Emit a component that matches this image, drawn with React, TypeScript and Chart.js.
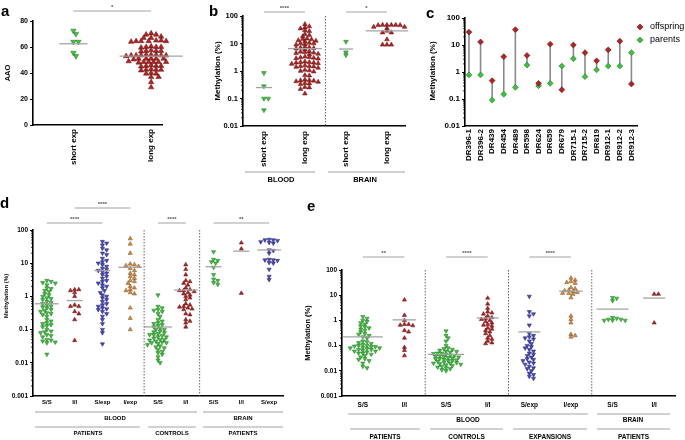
import React, { useEffect, useRef } from "react";
import { Chart, registerables } from "chart.js";
Chart.register(...registerables);

const FONT = '"Liberation Sans", Arial, Helvetica, sans-serif';
const W = 685;
const H = 440;

// ---------------- DATA ----------------
// panel a
const aCategories = ["short exp", "long exp"];
const aShortExp = [72.5, 70, 64, 64, 55.5, 53];
const aLongExp = [70.5, 69.5, 69.5, 68, 67, 67, 65, 64.5, 64.5, 64, 64.5, 65, 64, 64.5, 60, 60.5, 60, 59.5, 60, 57, 57.5, 57, 56.5, 57, 53.5, 54, 53.5, 53, 53.5, 54, 53.5, 53, 53.5, 54, 53.5, 51, 51, 50.5, 51, 51, 50.5, 51, 51, 48.5, 48.5, 48, 48.5, 49, 48.5, 48.5, 48, 48.5, 45.5, 45, 45.5, 46, 45.5, 42.5, 42, 42.5, 43, 42.5, 39.5, 39.5, 40, 37, 37, 33, 29];
const aMeans = [62.5, 53];
const aTicks = [0, 20, 40, 60, 80];
const aSig = ["*"];

// panel b
const bCategories = ["short exp", "long exp", "short exp", "long exp"];
const bTissues = ["BLOOD", "BRAIN"];
const bBloodShort = [0.85, 0.28, 0.1, 0.1, 0.038];
const bBloodLong = [50, 42, 38, 35, 30, 28, 22, 20, 18, 15, 14, 13, 12.5, 14.5, 12, 10, 9.5, 10.5, 9, 10, 7, 6.5, 6.8, 7.2, 6, 7.5, 5, 4.5, 4.8, 4.2, 5.2, 4, 4.6, 3, 3.2, 2.9, 3.1, 2.8, 3.3, 2, 2.1, 1.9, 2.2, 1.8, 2, 2.1, 1.5, 1.4, 1.6, 1.5, 1.3, 1.45, 1, 1.05, 0.95, 1.1, 0.7, 0.68, 0.45, 0.42, 0.48, 0.44, 0.4, 0.46, 0.35, 0.33, 0.36, 0.25, 0.26, 0.22, 0.15];
const bBrainShort = [11.7, 4.8, 3.8];
const bBrainLong = [47, 47, 46, 47, 46, 47, 40, 40, 36, 25, 25, 29, 14, 9, 9, 9];
const bMeans = [0.25, 6.5, 6.3, 29];
const bTicks = [0.01, 0.1, 1, 10, 100];
const bSig = ["****", "*"];

// panel c
const cSamples = ["DR396-1", "DR396-2", "DR439", "DR454", "DR489", "DR598", "DR624", "DR659", "DR679", "DR715-1", "DR715-2", "DR819", "DR912-1", "DR912-2", "DR912-3"];
const cOffspring = [30, 13, 0.48, 3.7, 37, 4.1, 0.38, 10.7, 0.22, 10, 5.2, 2.6, 6.6, 13.9, 0.36];
const cParents = [0.78, 0.78, 0.091, 0.15, 0.27, 1.8, 0.31, 0.38, 1.66, 3.1, 0.67, 1.2, 1.66, 1.66, 5.2];
const cLegend = ["offspring", "parents"];
const cTicks = [0.01, 0.1, 1, 10, 100];

// panel d
const dCategories = ["S/S", "I/I", "S/exp", "I/exp", "S/S", "I/I", "S/S", "I/I", "S/exp"];
const dTissues = ["BLOOD", "BRAIN"];
const dCohorts = ["PATIENTS", "CONTROLS", "PATIENTS"];
const dPatSS = [3, 2.8, 2.6, 2.5, 2.2, 1.8, 1.7, 1.5, 1.4, 1.2, 1.1, 1.0, 0.9, 0.85, 0.8, 0.7, 0.65, 0.6, 0.55, 0.5, 0.48, 0.45, 0.4, 0.38, 0.35, 0.32, 0.3, 0.28, 0.25, 0.2, 0.18, 0.16, 0.15, 0.14, 0.13, 0.12, 0.1, 0.09, 0.085, 0.08, 0.07, 0.065, 0.06, 0.05, 0.048, 0.045, 0.042, 0.04, 0.018];
const dPatII = [1.6, 1.5, 1.6, 1.3, 1.0, 0.55, 0.5, 0.5, 0.35, 0.3, 0.2, 0.047];
const dPatSexp = [45, 40, 35, 28, 25, 20, 18, 14, 12, 11, 10, 9, 8, 7, 6.5, 6, 5.5, 5, 4.5, 4, 3.5, 3, 2.8, 2.5, 2.2, 2, 1.8, 1.5, 1.3, 1.1, 1, 0.9, 0.8, 0.7, 0.6, 0.55, 0.5, 0.45, 0.42, 0.4, 0.35, 0.3, 0.25, 0.2, 0.15, 0.1, 0.08, 0.037];
const dPatIexp = [55, 38, 20, 9.5, 9, 8.5, 8, 7, 6, 5, 4.5, 4, 3.5, 3, 2.8, 2.5, 2, 1.8, 1.6, 1.5, 1.3, 1.2, 0.45, 0.22, 0.1];
const dConSS = [1.1, 0.5, 0.45, 0.4, 0.38, 0.35, 0.3, 0.25, 0.2, 0.18, 0.16, 0.15, 0.14, 0.13, 0.12, 0.11, 0.1, 0.1, 0.09, 0.085, 0.08, 0.075, 0.07, 0.07, 0.065, 0.06, 0.06, 0.055, 0.05, 0.05, 0.048, 0.045, 0.042, 0.04, 0.04, 0.038, 0.035, 0.032, 0.03, 0.028, 0.025, 0.022, 0.02, 0.018, 0.015, 0.012, 0.01];
const dConII = [9, 6.5, 4.5, 3, 2.8, 2.5, 2.2, 1.8, 1.6, 1.5, 1.5, 1.4, 1.3, 1.2, 1.1, 1.0, 0.9, 0.8, 0.6, 0.55, 0.5, 0.48, 0.45, 0.42, 0.4, 0.3, 0.28, 0.2, 0.18, 0.16, 0.12];
const dBrainSS = [22, 13, 12, 11, 10, 7.5, 4.5, 3.3, 3, 2.6, 2.3];
const dBrainII = [41, 27, 1.25];
const dBrainSexp = [52, 50, 48, 50, 42, 40, 44, 25, 24, 20, 12.5, 13, 12, 12.5, 10.5, 10, 6.5, 4, 3.2];
const dMeans = [0.6, 0.75, 6, 7.5, 0.12, 1.55, 7.8, 23, 25];
const dTicks = [0.001, 0.01, 0.1, 1, 10, 100];
const dSig = ["****", "****", "****", "**"];

// panel e
const eCategories = ["S/S", "I/I", "S/S", "I/I", "S/exp", "I/exp", "S/S", "I/I"];
const eTissues = ["BLOOD", "BRAIN"];
const eCohorts = ["PATIENTS", "CONTROLS", "EXPANSIONS", "PATIENTS"];
const ePatSS = [1.4, 1.2, 1.0, 0.9, 0.8, 0.7, 0.6, 0.55, 0.5, 0.45, 0.4, 0.35, 0.3, 0.28, 0.25, 0.22, 0.2, 0.15, 0.14, 0.13, 0.12, 0.11, 0.1, 0.1, 0.095, 0.09, 0.09, 0.085, 0.08, 0.08, 0.075, 0.07, 0.07, 0.065, 0.06, 0.06, 0.055, 0.05, 0.05, 0.045, 0.04, 0.035, 0.03, 0.028, 0.025, 0.02, 0.015, 0.013];
const ePatII = [6.5, 1.6, 1.0, 0.7, 0.7, 0.65, 0.62, 0.4, 0.35, 0.2, 0.085, 0.065, 0.04];
const eConSS = [0.38, 0.25, 0.2, 0.15, 0.1, 0.08, 0.075, 0.07, 0.065, 0.06, 0.058, 0.055, 0.05, 0.05, 0.048, 0.045, 0.042, 0.04, 0.04, 0.038, 0.036, 0.035, 0.033, 0.032, 0.03, 0.03, 0.028, 0.027, 0.025, 0.025, 0.024, 0.022, 0.021, 0.02, 0.02, 0.019, 0.018, 0.017, 0.016, 0.015, 0.014, 0.013, 0.012, 0.011, 0.01];
const eConII = [7.7, 4.5, 3, 2.2, 2.0, 1.8, 1.5, 1.3, 1.2, 1.1, 1.0, 0.9, 0.8, 0.7, 0.65, 0.6, 0.5, 0.45, 0.4, 0.35, 0.3, 0.25, 0.2, 0.18, 0.15, 0.13, 0.12];
const eExpS = [9, 2.2, 1.8, 1.5, 0.65, 0.3, 0.25, 0.22, 0.2, 0.18, 0.15, 0.12, 0.1, 0.09, 0.08, 0.07, 0.06, 0.05, 0.045, 0.04, 0.035, 0.03, 0.028, 0.025, 0.022, 0.02, 0.018, 0.015, 0.013, 0.012, 0.01, 0.008, 0.007, 0.006, 0.005];
const eExpI = [48, 40, 35, 32, 30, 20, 18, 16, 15, 14, 13, 12, 12, 11, 8, 1.5, 1.1, 0.8, 0.28, 0.25, 0.22];
const eBrainSS = [8, 7.5, 6, 1.3, 1.1, 1.0, 1.0, 1.0, 1.1, 1.2];
const eBrainII = [11, 11, 0.8];
const eMeans = [0.22, 1.05, 0.045, 1.25, 0.35, 14.5, 2.8, 7.7];
const eTicks = [0.001, 0.01, 0.1, 1, 10, 100];
const eSig = ["**", "****", "****"];

// ---------------- STYLE / HELPERS ----------------
type Kind = "S" | "I" | "Sexp" | "Iexp";
const STY: Record<Kind, { fill: string; edge: string; up: boolean }> = {
  S: { fill: "#3fc23f", edge: "#1d701d", up: false },
  I: { fill: "#b32424", edge: "#5a0c0c", up: true },
  Sexp: { fill: "#4a4ab8", edge: "#1e1e6a", up: false },
  Iexp: { fill: "#d38e4a", edge: "#7a4b14", up: true },
};
const GRAY = "#a3a3a3";

type Grp = { values: number[]; cat: number; kind: Kind; mean: number };
interface Panel {
  L: number; T: number; R: number; B: number;
  xMin: number; xMax: number;
  yLog: boolean; yMin: number; yMax: number; ticks: number[]; tickFont: number;
  groups: Grp[]; r: number; Dx: number; Dy: number; meanMin: number;
  extra?: any[];
  draw: (ctx: CanvasRenderingContext2D, px: (v: number) => number, py: (v: number) => number) => void;
}

function yPixOf(p: Panel, v: number) {
  if (p.yLog) {
    const a = Math.log10(p.yMax), b = Math.log10(p.yMin);
    return p.T + ((a - Math.log10(v)) / (a - b)) * (p.B - p.T);
  }
  return p.T + ((p.yMax - v) / (p.yMax - p.yMin)) * (p.B - p.T);
}

// deterministic beeswarm: horizontal offsets (px) so markers do not collide
function swarm(ys: number[], Dx: number, Dy: number): number[] {
  const order = ys.map((_, i) => i).sort((a, b) => ys[a] - ys[b]);
  const placed: { x: number; y: number }[] = [];
  const out: number[] = new Array(ys.length).fill(0);
  const cands: number[] = [0];
  for (let k = 1; k < 80; k++) { cands.push((k * Dx) / 2, (-k * Dx) / 2); }
  for (const i of order) {
    const y = ys[i];
    for (const off of cands) {
      let ok = true;
      for (const q of placed) {
        const dx = (q.x - off) / Dx, dy = (q.y - y) / Dy;
        if (dx * dx + dy * dy < 0.98) { ok = false; break; }
      }
      if (ok) { out[i] = off; placed.push({ x: off, y }); break; }
    }
  }
  return out;
}

function txt(ctx: CanvasRenderingContext2D, s: string, x: number, y: number, size: number,
  o: { bold?: boolean; align?: CanvasTextAlign; base?: CanvasTextBaseline; rot?: number; color?: string } = {}) {
  ctx.save();
  ctx.font = `${o.bold === false ? "" : "bold "}${size}px ${FONT}`;
  ctx.fillStyle = o.color || "#000";
  ctx.textAlign = o.align || "center";
  ctx.textBaseline = o.base || "middle";
  ctx.translate(x, y);
  if (o.rot) ctx.rotate(o.rot);
  ctx.fillText(s, 0, 0);
  ctx.restore();
}
function line(ctx: CanvasRenderingContext2D, x1: number, y1: number, x2: number, y2: number, color: string, w: number, dash?: number[]) {
  ctx.save();
  ctx.strokeStyle = color; ctx.lineWidth = w;
  if (dash) ctx.setLineDash(dash);
  ctx.beginPath(); ctx.moveTo(x1, y1); ctx.lineTo(x2, y2); ctx.stroke();
  ctx.restore();
}
function sig(ctx: CanvasRenderingContext2D, x1: number, x2: number, y: number, label: string) {
  line(ctx, x1, y, x2, y, GRAY, 1);
  txt(ctx, label, (x1 + x2) / 2, y - 4, 6, { color: "#555" });
}
const UP = -Math.PI / 2;

// ---------------- PANELS ----------------
const panelA: Panel = {
  L: 33, T: 21, R: 162, B: 125, xMin: -0.52, xMax: 1.14,
  yLog: false, yMin: 0, yMax: 80, ticks: aTicks, tickFont: 7,
  r: 3.1, Dx: 5, Dy: 3.4, meanMin: 14,
  groups: [
    { values: aShortExp, cat: 0, kind: "S", mean: aMeans[0] },
    { values: aLongExp, cat: 1, kind: "I", mean: aMeans[1] },
  ],
  draw: (ctx, px) => {
    txt(ctx, "a", 1, 12, 15, { align: "left" });
    txt(ctx, "AAO", 8, 73, 7.5, { rot: UP });
    aCategories.forEach((s, i) => txt(ctx, s, px(i), 129, 8, { align: "right", rot: UP }));
    sig(ctx, px(0), px(1), 11, aSig[0]);
  },
};

const panelB: Panel = {
  L: 243, T: 16, R: 405, B: 126, xMin: -0.51, xMax: 3.44,
  yLog: true, yMin: 0.01, yMax: 100, ticks: bTicks, tickFont: 7.5,
  r: 2.7, Dx: 4.4, Dy: 2.6, meanMin: 7,
  groups: [
    { values: bBloodShort, cat: 0, kind: "S", mean: bMeans[0] },
    { values: bBloodLong, cat: 1, kind: "I", mean: bMeans[1] },
    { values: bBrainShort, cat: 2, kind: "S", mean: bMeans[2] },
    { values: bBrainLong, cat: 3, kind: "I", mean: bMeans[3] },
  ],
  draw: (ctx, px) => {
    txt(ctx, "b", 209, 12, 15, { align: "left" });
    txt(ctx, "Methylation (%)", 218, 71, 8, { rot: UP });
    bCategories.forEach((s, i) => txt(ctx, s, px(i), 131, 8, { align: "right", rot: UP }));
    line(ctx, px(1.5), 16, px(1.5), 126, "#555", 0.9, [1.5, 1.5]);
    line(ctx, 245, 172, 315, 172, GRAY, 1);
    line(ctx, 328, 172, 405, 172, GRAY, 1);
    txt(ctx, bTissues[0], 281, 180, 7.5);
    txt(ctx, bTissues[1], 365, 180, 7.5);
    sig(ctx, px(0), px(1), 12, bSig[0]);
    sig(ctx, px(2), px(3), 12, bSig[1]);
  },
};

const cIdx = cSamples.map((_, i) => i);
const panelC: Panel = {
  L: 465, T: 18, R: 637, B: 126, xMin: -0.34, xMax: 14.48,
  yLog: true, yMin: 0.01, yMax: 100, ticks: cTicks, tickFont: 8,
  r: 2.8, Dx: 5, Dy: 5, meanMin: 0,
  groups: [],
  extra: [
    {
      type: "line",
      data: cIdx.flatMap((i) => [{ x: i, y: cOffspring[i] }, { x: i, y: cParents[i] }, { x: i, y: null }]),
      borderColor: "#8a8a8a", borderWidth: 1.6, pointRadius: 0, spanGaps: false, order: 3, clip: false,
    },
    {
      type: "scatter",
      data: cIdx.map((i) => ({ x: i, y: cParents[i] })),
      pointStyle: "rectRot", pointRadius: 2.9, backgroundColor: "#3fc23f", borderColor: "#1d701d", borderWidth: 0.6, order: 2, clip: false,
    },
    {
      type: "scatter",
      data: cIdx.map((i) => ({ x: i, y: cOffspring[i] })),
      pointStyle: "rectRot", pointRadius: 2.9, backgroundColor: "#b32424", borderColor: "#5a0c0c", borderWidth: 0.6, order: 1, clip: false,
    },
  ],
  draw: (ctx, px) => {
    txt(ctx, "c", 426, 14, 15, { align: "left" });
    txt(ctx, "Methylation (%)", 433, 71, 8, { rot: UP });
    cSamples.forEach((s, i) => txt(ctx, s, px(i), 129, 8, { align: "right", rot: UP }));
    const cols = ["#b32424", "#3fc23f"];
    const edges = ["#5a0c0c", "#1d701d"];
    cLegend.forEach((s, i) => {
      const y = 27 + i * 13;
      ctx.save();
      ctx.translate(640, y); ctx.rotate(Math.PI / 4);
      ctx.fillStyle = cols[i]; ctx.strokeStyle = edges[i]; ctx.lineWidth = 0.6;
      ctx.fillRect(-2.1, -2.1, 4.2, 4.2); ctx.strokeRect(-2.1, -2.1, 4.2, 4.2);
      ctx.restore();
      txt(ctx, s, 650, y, 9, { bold: false, align: "left" });
    });
  },
};

const panelD: Panel = {
  L: 33, T: 230, R: 283, B: 396, xMin: -0.5, xMax: 8.5,
  yLog: true, yMin: 0.001, yMax: 100, ticks: dTicks, tickFont: 6.5,
  r: 2.4, Dx: 4.2, Dy: 2.7, meanMin: 8,
  groups: [
    { values: dPatSS, cat: 0, kind: "S", mean: dMeans[0] },
    { values: dPatII, cat: 1, kind: "I", mean: dMeans[1] },
    { values: dPatSexp, cat: 2, kind: "Sexp", mean: dMeans[2] },
    { values: dPatIexp, cat: 3, kind: "Iexp", mean: dMeans[3] },
    { values: dConSS, cat: 4, kind: "S", mean: dMeans[4] },
    { values: dConII, cat: 5, kind: "I", mean: dMeans[5] },
    { values: dBrainSS, cat: 6, kind: "S", mean: dMeans[6] },
    { values: dBrainII, cat: 7, kind: "I", mean: dMeans[7] },
    { values: dBrainSexp, cat: 8, kind: "Sexp", mean: dMeans[8] },
  ],
  draw: (ctx, px) => {
    txt(ctx, "d", 0, 204, 15, { align: "left" });
    txt(ctx, "Methylation (%)", 6, 296, 6, { rot: UP });
    dCategories.forEach((s, i) => txt(ctx, s, px(i), 402, 6));
    [3.5, 5.5].forEach((v) => line(ctx, px(v), 230, px(v), 396, "#555", 0.9, [1.5, 1.5]));
    line(ctx, 35, 412, 197, 412, GRAY, 1);
    line(ctx, 203, 412, 283, 412, GRAY, 1);
    txt(ctx, dTissues[0], 115, 418, 6);
    txt(ctx, dTissues[1], 243, 418, 6);
    line(ctx, 35, 427, 140, 427, GRAY, 1);
    line(ctx, 148, 427, 196, 427, GRAY, 1);
    line(ctx, 203, 427, 283, 427, GRAY, 1);
    txt(ctx, dCohorts[0], 88, 433, 6);
    txt(ctx, dCohorts[1], 172, 433, 6);
    txt(ctx, dCohorts[2], 243, 433, 6);
    sig(ctx, px(0), px(2), 223, dSig[0]);
    sig(ctx, px(1), px(3), 208, dSig[1]);
    sig(ctx, px(4), px(5), 223, dSig[2]);
    sig(ctx, px(6), px(8), 223, dSig[3]);
  },
};

const panelE: Panel = {
  L: 342, T: 270, R: 675, B: 396, xMin: -0.5, xMax: 7.5,
  yLog: true, yMin: 0.001, yMax: 100, ticks: eTicks, tickFont: 6.5,
  r: 2.4, Dx: 4.2, Dy: 2.6, meanMin: 11,
  groups: [
    { values: ePatSS, cat: 0, kind: "S", mean: eMeans[0] },
    { values: ePatII, cat: 1, kind: "I", mean: eMeans[1] },
    { values: eConSS, cat: 2, kind: "S", mean: eMeans[2] },
    { values: eConII, cat: 3, kind: "I", mean: eMeans[3] },
    { values: eExpS, cat: 4, kind: "Sexp", mean: eMeans[4] },
    { values: eExpI, cat: 5, kind: "Iexp", mean: eMeans[5] },
    { values: eBrainSS, cat: 6, kind: "S", mean: eMeans[6] },
    { values: eBrainII, cat: 7, kind: "I", mean: eMeans[7] },
  ],
  draw: (ctx, px) => {
    txt(ctx, "e", 307, 207, 15, { align: "left" });
    txt(ctx, "Methylation (%)", 308, 333, 7.5, { rot: UP });
    eCategories.forEach((s, i) => txt(ctx, s, px(i), 405, 6.5));
    [1.5, 3.5, 5.5].forEach((v) => line(ctx, px(v), 270, px(v), 396, "#555", 0.9, [1.5, 1.5]));
    line(ctx, 348, 414, 588, 414, GRAY, 1);
    line(ctx, 597, 414, 670, 414, GRAY, 1);
    txt(ctx, eTissues[0], 468, 420, 6.5);
    txt(ctx, eTissues[1], 633, 420, 6.5);
    const spans = [[350, 420], [430, 503], [513, 587], [597, 670]];
    spans.forEach(([a, b], i) => {
      line(ctx, a, 429, b, 429, GRAY, 1);
      txt(ctx, eCohorts[i], (a + b) / 2, 437, 6.5);
    });
    sig(ctx, px(0), px(1), 257, eSig[0]);
    sig(ctx, px(2), px(3), 257, eSig[1]);
    sig(ctx, px(4), px(5), 257, eSig[2]);
  },
};

const PANELS: Panel[] = [panelA, panelB, panelC, panelD, panelE];

function fmt(v: number) {
  return String(v);
}

function buildDatasets(p: Panel) {
  const ds: any[] = [];
  const pxPerX = (p.R - p.L) / (p.xMax - p.xMin);
  for (const g of p.groups) {
    const st = STY[g.kind];
    const ys = g.values.map((v) => yPixOf(p, v));
    const offs = swarm(ys, p.Dx, p.Dy);
    ds.push({
      type: "scatter",
      data: g.values.map((v, i) => ({ x: g.cat + offs[i] / pxPerX, y: v })),
      pointStyle: "triangle", pointRotation: st.up ? 0 : 180, pointRadius: p.r,
      backgroundColor: st.fill, borderColor: st.edge, borderWidth: 0.5, clip: false, order: 2,
    });
    const ext = Math.max(...offs.map((o) => Math.abs(o))) + p.r + 1;
    const hw = Math.max(ext, p.meanMin) / pxPerX;
    ds.push({
      type: "line",
      data: [{ x: g.cat - hw, y: g.mean }, { x: g.cat + hw, y: g.mean }],
      borderColor: GRAY, borderWidth: 1.3, pointRadius: 0, clip: false, order: 1,
    });
  }
  if (p.extra) ds.push(...p.extra);
  return ds;
}

function makeChart(canvas: HTMLCanvasElement, p: Panel) {
  const extraPlugin = {
    id: "extraDraw",
    afterDraw: (c: any) => {
      const ctx = c.ctx as CanvasRenderingContext2D;
      const px = (v: number) => c.scales.x.getPixelForValue(v);
      const py = (v: number) => c.scales.y.getPixelForValue(v);
      if (p.yLog) {
        const lo = Math.round(Math.log10(p.yMin));
        const hi = Math.round(Math.log10(p.yMax));
        for (let k = lo; k < hi; k++) {
          for (let m = 2; m <= 9; m++) {
            const y = py(m * Math.pow(10, k));
            line(ctx, p.L - 2, y, p.L, y, "#000", 0.8);
          }
        }
      }
      p.draw(ctx, px, py);
    },
  };
  return new Chart(canvas, {
    type: "scatter",
    data: { datasets: buildDatasets(p) },
    options: {
      animation: false,
      responsive: false,
      devicePixelRatio: 1,
      events: [],
      layout: { padding: { left: p.L - 30, top: p.T, right: W - p.R, bottom: H - p.B } },
      plugins: { legend: { display: false }, tooltip: { enabled: false } },
      scales: {
        x: {
          type: "linear", min: p.xMin, max: p.xMax,
          ticks: { display: false },
          grid: { display: false, drawTicks: false },
          border: { display: true, color: "#000", width: 1.6 },
          afterFit: (s: any) => { s.height = 0; },
        },
        y: {
          type: p.yLog ? "logarithmic" : "linear", min: p.yMin, max: p.yMax,
          ticks: {
            font: { family: FONT, size: p.tickFont, weight: "bold" }, color: "#000", padding: 2, autoSkip: false,
            callback: (v: any) => fmt(Number(v)),
          },
          afterBuildTicks: (s: any) => { s.ticks = p.ticks.map((v) => ({ value: v })); },
          grid: { drawOnChartArea: false, drawTicks: true, tickLength: 3, color: "#000", lineWidth: 1 },
          border: { display: true, color: "#000", width: 1.6 },
          afterFit: (s: any) => { s.width = 30; },
        },
      },
    } as any,
    plugins: [extraPlugin],
  });
}

export default function App() {
  const refs = useRef<(HTMLCanvasElement | null)[]>([]);
  useEffect(() => {
    document.body.style.margin = "0";
    const charts = PANELS.map((p, i) => makeChart(refs.current[i] as HTMLCanvasElement, p));
    return () => charts.forEach((c) => c.destroy());
  }, []);
  return (
    <div style={{ position: "relative", width: W, height: H, background: "#fff", overflow: "hidden" }}>
      {PANELS.map((_, i) => (
        <canvas
          key={i}
          ref={(el) => { refs.current[i] = el; }}
          width={W}
          height={H}
          style={{ position: "absolute", left: 0, top: 0, width: W, height: H }}
        />
      ))}
    </div>
  );
}
